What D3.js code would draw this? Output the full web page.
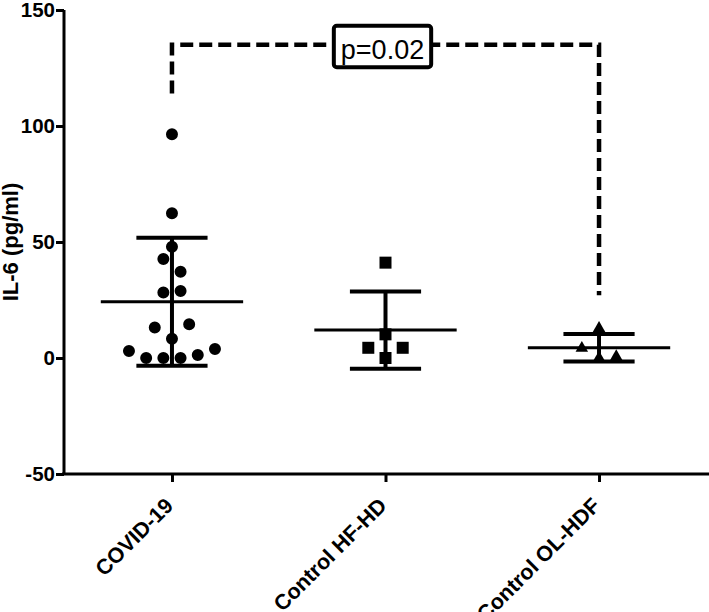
<!DOCTYPE html>
<html><head><meta charset="utf-8">
<script src="https://cdn.jsdelivr.net/npm/d3@7"></script>
<style>
body{margin:0;background:#fff}
svg{display:block}
text{font-family:"Liberation Sans",Arial,Helvetica,sans-serif}
</style>
</head><body><svg id="c" width="709" height="612"></svg>
<script>
// ---- data ----
const categories = ["COVID-19", "Control HF-HD", "Control OL-HDF"];
const covidValues = [96.4, 62.4, 48.0, 42.7, 37.2, 28.2, 28.9, 13.1, 8.3, 14.5, 3.0, 0, 0, 0, 1.3, 3.9];
const hfhdValues = [41.1, 10.2, 4.4, 0, 4.4];
const olhdfValues = [12.8, 4.2, 0, 0.6];
const yTicks = [-50, 0, 50, 100, 150];
const yLabel = "IL-6 (pg/ml)";
const pLabel = "p=0.02";
const bracketLevels = [114, 135, 27]; // left end, top, right end (pg/ml)

// ---- layout ----
const svg = d3.select("#c");
const x = d3.scalePoint().domain(categories).range([62, 709]).padding(0.515);
const y = d3.scaleLinear().domain([-50, 150]).range([474, 10]);
const step = x.step();
const groups = [covidValues, hfhdValues, olhdfValues];
const symbols = [d3.symbolCircle, d3.symbolSquare, d3.symbolTriangle];
const symSizes = [113, 144, 68];

// axes
const yAxis = svg.append("g").attr("transform", "translate(64,0)")
  .call(d3.axisLeft(y).tickValues(yTicks).tickSize(8).tickSizeOuter(0).tickPadding(1)
    .tickFormat(d => String(d)));
const xAxis = svg.append("g").attr("transform", "translate(0,474)")
  .call(d3.axisBottom(x).tickSize(8).tickSizeOuter(0));
[yAxis, xAxis].forEach(g => {
  g.selectAll("path.domain").attr("stroke", "#000").attr("stroke-width", 3);
  g.selectAll(".tick line").attr("stroke", "#000").attr("stroke-width", 3);
  g.selectAll("text").attr("font-weight", "bold").attr("fill", "#000")
    .style("font-family", '"Liberation Sans",Arial,sans-serif');
});
yAxis.selectAll("text").attr("font-size", 20.5);
xAxis.selectAll("text").attr("font-size", 21.5);
xAxis.select("path.domain").attr("d", "M62,0H709");
yAxis.select("path.domain").attr("d", "M0,474V10");
xAxis.selectAll(".tick text")
  .attr("x", 0).attr("y", 0).attr("dy", 0)
  .attr("text-anchor", "end")
  .attr("transform", "translate(2,33) rotate(-45)");

svg.append("text")
  .attr("transform", `translate(18,${(y(-50) + y(150)) / 2}) rotate(-90)`)
  .attr("text-anchor", "middle")
  .attr("font-size", 22).attr("font-weight", "bold")
  .text(yLabel);

// error bars (mean ± SD)
groups.forEach((vals, i) => {
  const cx = x(categories[i]);
  const m = d3.mean(vals), sd = d3.deviation(vals);
  const g = svg.append("g").attr("stroke", "#000");
  g.append("line").attr("x1", cx).attr("x2", cx).attr("y1", y(m - sd)).attr("y2", y(m + sd)).attr("stroke-width", 4);
  [m - sd, m + sd].forEach(v => {
    g.append("line").attr("x1", cx - step / 6).attr("x2", cx + step / 6)
      .attr("y1", y(v)).attr("y2", y(v)).attr("stroke-width", 4);
  });
  g.append("line").attr("x1", cx - step / 3).attr("x2", cx + step / 3)
    .attr("y1", y(m)).attr("y2", y(m)).attr("stroke-width", 3);
});

// points, arranged as a simple swarm
const slot = 17.2, groupPx = 15;
groups.forEach((vals, i) => {
  const cx = x(categories[i]);
  const idx = d3.range(vals.length).sort((a, b) => vals[a] - vals[b] || a - b);
  const clusters = [];
  let cur = null;
  idx.forEach(k => {
    if (cur && Math.abs(y(vals[k]) - y(vals[cur[0]])) < groupPx) cur.push(k);
    else { cur = [k]; clusters.push(cur); }
  });
  const pts = [];
  clusters.forEach(c => {
    const ordered = c.slice().sort((a, b) => a - b);
    ordered.forEach((k, j) => pts.push({ v: vals[k], dx: (j - (ordered.length - 1) / 2) * slot }));
  });
  svg.append("g").selectAll("path").data(pts).join("path")
    .attr("d", d3.symbol().type(symbols[i]).size(symSizes[i]))
    .attr("transform", d => `translate(${cx + d.dx},${y(d.v)})`)
    .attr("fill", "#000");
});

// significance bracket
const xl = x(categories[0]), xr = x(categories[2]);
svg.append("path")
  .attr("d", `M${xl},${y(bracketLevels[0])}V${y(bracketLevels[1])}H${xr}V${y(bracketLevels[2])}`)
  .attr("fill", "none").attr("stroke", "#000").attr("stroke-width", 4.5)
  .attr("stroke-dasharray", "13,6");
const bx = (xl + xr) / 2 - 3, by = y(bracketLevels[1]);
const box = svg.append("rect").attr("fill", "#fff").attr("stroke", "#000").attr("stroke-width", 4).attr("rx", 3);
const pt = svg.append("text").attr("x", bx).attr("y", by + 14).attr("text-anchor", "middle")
  .attr("font-size", 27).text(pLabel);
const bb = pt.node().getBBox();
box.attr("x", bb.x - 7).attr("width", bb.width + 14).attr("y", by - 19).attr("height", 41.5);
</script>
</body></html>
